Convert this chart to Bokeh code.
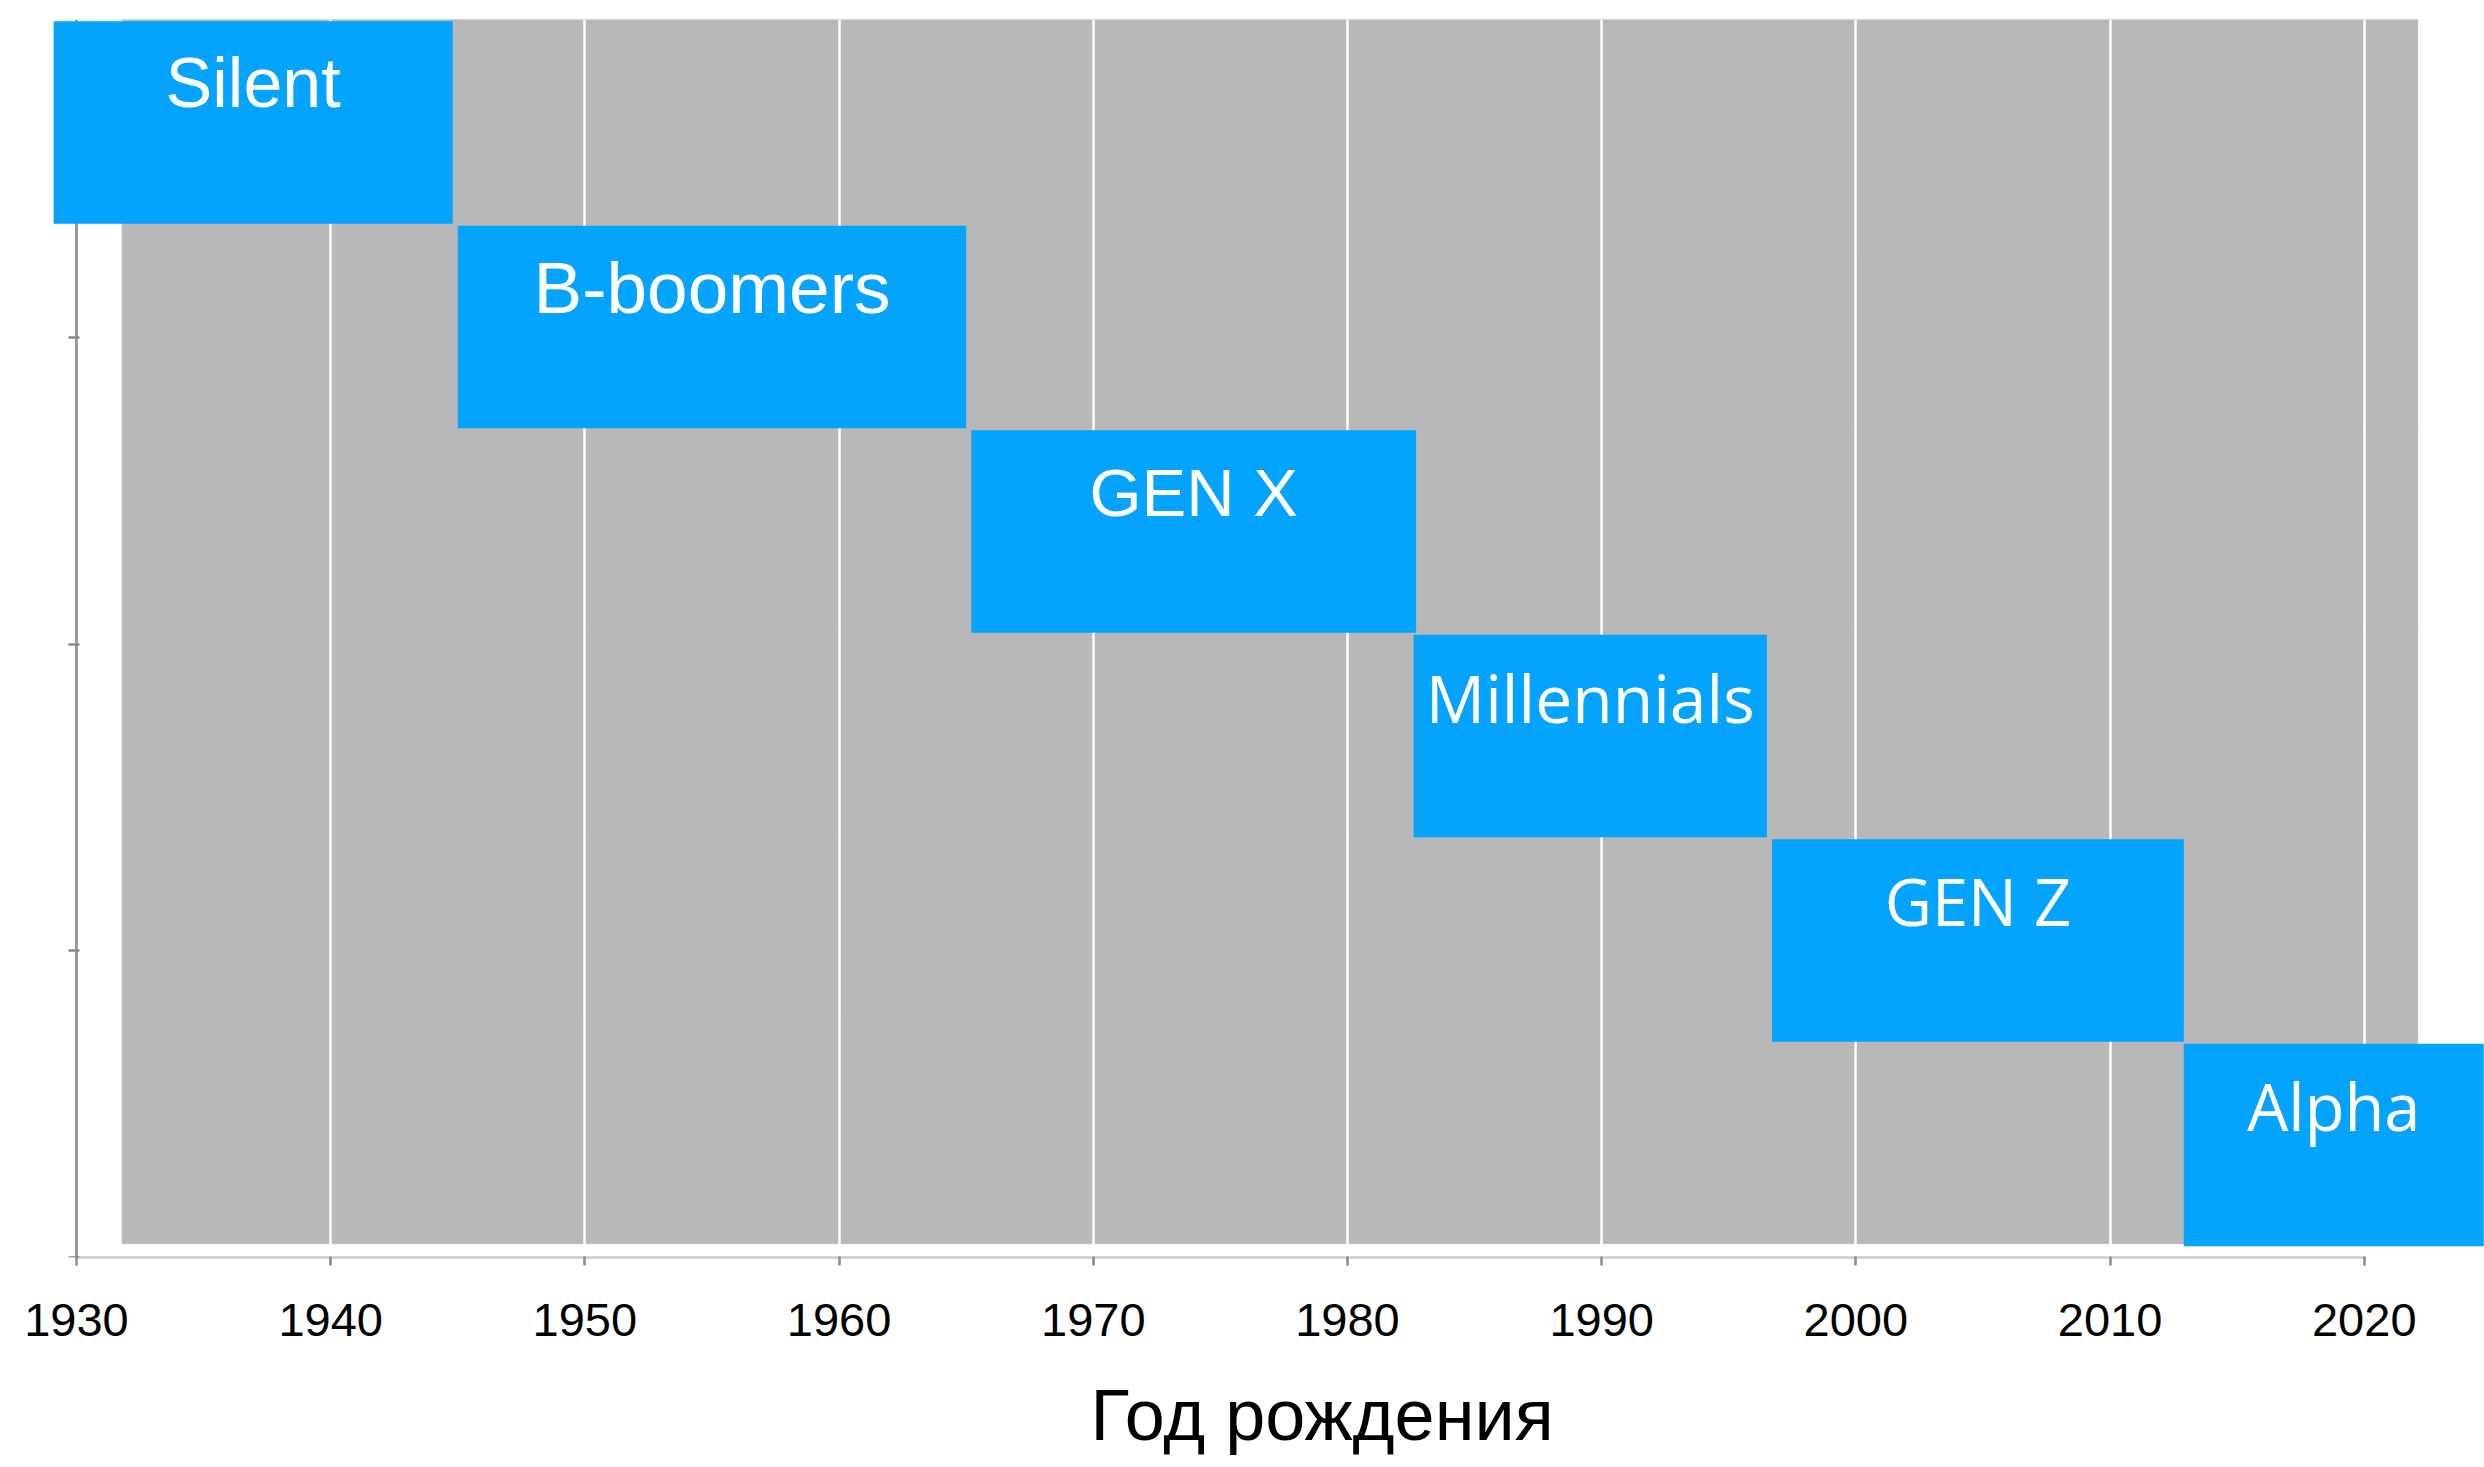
from bokeh.plotting import figure
from bokeh.models import ColumnDataSource, FixedTicker, Range1d, Title
from bokeh.embed import file_html
from bokeh.resources import INLINE

# ---- data ----
generations = ["Silent", "B-boomers", "GEN X", "Millennials", "GEN Z", "Alpha"]
start_year = [1929.1, 1945.0, 1965.2, 1982.6, 1996.7, 2012.9]
end_year = [1944.8, 1965.0, 1982.7, 1996.5, 2012.9, 2024.7]
span_start = 1931.8   # grey background band
span_end = 2022.1
year_ticks = [1930, 1940, 1950, 1960, 1970, 1980, 1990, 2000, 2010, 2020]
y_ticks = [0, 1.5, 3, 4.5, 6]
x_label = "Год рождения"

# ---- styles ----
BLUE = "#03A3FE"
GREY = "#B8B8B8"
label_font = {
    "Silent": "Liberation Sans", "B-boomers": "Liberation Sans", "GEN X": "Liberation Sans",
    "Millennials": "Open Sans", "GEN Z": "Open Sans", "Alpha": "Open Sans",
}
label_size = {
    "Silent": "70px", "B-boomers": "73px", "GEN X": "67px",
    "Millennials": "66px", "GEN Z": "65px", "Alpha": "65px",
}

n = len(generations)
row = [n - 1 - i for i in range(n)]            # Silent on top
bar_h = 0.99
bar_c = [r + 0.55 for r in row]
band_c = [r + 0.568 for r in row]

src = ColumnDataSource(dict(
    gen=generations,
    left=start_year,
    right=end_year,
    yc=bar_c,
    band=band_c,
    xm=[(a + b) / 2 for a, b in zip(start_year, end_year)],
    ty=[c + bar_h / 2 - 0.303 for c in bar_c],
    font=[label_font[g] for g in generations],
    size=[label_size[g] for g in generations],
))

p = figure(frame_width=2456, frame_height=1238,
           x_range=Range1d(1928.112, 2024.73), y_range=Range1d(0, 6.054),
           output_backend="svg", toolbar_location=None,
           min_border_left=28, min_border_right=0, min_border_top=19, min_border_bottom=0)
p.outline_line_color = None
p.background_fill_color = "white"
p.border_fill_color = "white"

# grey background band
p.hbar(y="band", left=span_start, right=span_end, height=1.0, source=src,
       fill_color=GREY, line_color=GREY, line_width=1, level="image")

# generation bars
p.hbar(y="yc", left="left", right="right", height=bar_h, source=src,
       fill_color=BLUE, line_color=None, level="annotation")

# labels
p.text(x="xm", y="ty", text="gen", source=src, text_color="white",
       text_font="font", text_font_size="size",
       text_align="center", text_baseline="alphabetic", level="overlay")

# grid
p.xgrid.ticker = FixedTicker(ticks=year_ticks)
p.xgrid.grid_line_color = "white"
p.xgrid.grid_line_width = 2.5
p.ygrid.grid_line_color = None

# x axis
xa = p.xaxis[0]
xa.ticker = FixedTicker(ticks=year_ticks)
xa.bounds = (year_ticks[0], year_ticks[-1])
xa.axis_line_color = "#d4d4d4"
xa.axis_line_width = 3
xa.major_tick_line_color = "#8a8a8a"
xa.major_tick_line_width = 2.5
xa.major_tick_in = 1
xa.major_tick_out = 8
xa.minor_tick_line_color = None
xa.major_label_text_font = "Liberation Sans"
xa.major_label_text_font_size = "47px"
xa.major_label_text_color = "black"
xa.major_label_standoff = 38

# axis title (offset to the right as in the reference)
p.add_layout(Title(text=x_label, align="left", offset=1062, standoff=68,
                   text_font="Liberation Sans", text_font_size="72px",
                   text_font_style="normal", text_color="black"), "below")

# y axis (drawn at 1930, no labels)
ya = p.yaxis[0]
ya.fixed_location = year_ticks[0]
ya.ticker = FixedTicker(ticks=y_ticks)
ya.axis_line_color = "#9a9a9a"
ya.axis_line_width = 3
ya.major_tick_line_color = "#8a8a8a"
ya.major_tick_line_width = 2.5
ya.major_tick_in = 3
ya.major_tick_out = 8
ya.minor_tick_line_color = None
ya.major_label_text_color = None

open("out.html", "w").write(file_html(p, INLINE))
